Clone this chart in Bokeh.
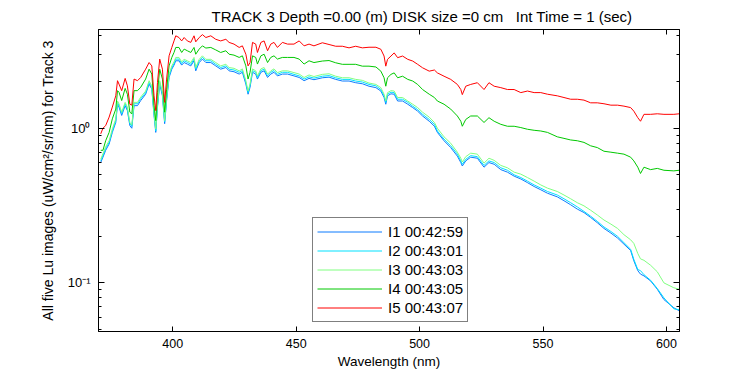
from bokeh.plotting import figure
from bokeh.models import (Range1d, FixedTicker, LogAxis, LinearAxis,
                          Legend, LegendItem, CustomJSTickFormatter)
from bokeh.embed import file_html
from bokeh.resources import INLINE

# ---------------- data ----------------
wavelength = [370.8, 371.7, 372.8, 374.2, 375.5, 376.9, 377.6, 378.2, 379.3, 380.7,
              381.6, 382.6, 383.4, 384.3, 385.7, 387.0, 389.0, 390.4, 391.5, 392.4,
              393.1, 393.8, 394.7, 395.8, 396.7, 397.5, 398.5, 399.6, 400.5, 401.2,
              402.5, 403.6, 404.6, 405.9, 407.3, 408.6, 409.3, 410.7, 412.0, 413.4,
              415.4, 417.4, 419.4, 421.5, 422.8, 424.8, 426.9, 428.2, 429.6, 430.5,
              431.3, 432.3, 433.6, 434.3, 435.7, 437.0, 438.4, 439.7, 441.0, 442.4,
              444.4, 446.5, 449.1, 451.2, 453.2, 455.2, 457.2, 460.6, 463.3, 466.0,
              468.7, 471.4, 474.1, 476.8, 479.5, 482.3, 484.3, 485.6, 486.3, 487.0,
              488.4, 489.7, 491.1, 493.1, 495.2, 497.2, 499.2, 501.2, 503.9, 506.0,
              507.2, 509.9, 512.6, 515.3, 516.7, 517.3, 518.7, 520.7, 523.4, 526.1,
              528.1, 530.2, 532.9, 535.6, 538.3, 541.0, 543.7, 546.4, 549.1, 551.8,
              555.8, 558.5, 561.2, 563.9, 566.6, 569.3, 572.0, 574.7, 577.5, 580.2,
              582.8, 585.5, 586.8, 588.4, 589.5, 590.9, 593.6, 596.3, 599.0, 603.0,
              605.2]

lu_i5 = [0.92, 1.00, 1.04, 1.18, 1.37, 1.62, 2.03, 1.93, 1.75, 2.10,
         1.88, 1.43, 1.41, 2.08, 2.03, 2.13, 2.41, 2.66, 2.53, 1.62,
         1.30, 1.98, 2.80, 2.41, 1.47, 2.08, 2.94, 3.33, 3.67, 3.96,
         3.86, 3.67, 3.86, 3.67, 3.59, 3.96, 3.62, 3.86, 4.03, 3.86,
         3.96, 3.76, 3.67, 3.76, 3.59, 3.50, 3.33, 3.41, 3.01, 2.53,
         2.66, 3.59, 3.50, 3.09, 3.59, 3.67, 3.17, 3.50, 3.59, 3.33,
         3.59, 3.50, 3.50, 3.67, 3.41, 3.50, 3.41, 3.57, 3.48, 3.39,
         3.39, 3.31, 3.39, 3.31, 3.34, 3.34, 3.24, 2.93, 2.52, 2.79,
         2.93, 3.07, 2.86, 2.93, 2.79, 2.72, 2.59, 2.46, 2.34, 2.38,
         2.28, 2.17, 2.07, 1.92, 1.78, 1.65, 1.87, 1.92, 1.97, 1.78,
         1.97, 1.87, 1.83, 1.78, 1.78, 1.70, 1.74, 1.70, 1.70, 1.66,
         1.62, 1.58, 1.54, 1.54, 1.52, 1.46, 1.46, 1.44, 1.41, 1.41,
         1.39, 1.36, 1.29, 1.17, 1.11, 1.23, 1.23, 1.24, 1.23, 1.23,
         1.24]

lu_i4 = [0.72, 0.72, 0.83, 0.94, 1.15, 1.33, 1.75, 1.71, 1.51, 1.81,
         1.66, 1.27, 1.24, 1.75, 1.75, 1.84, 2.08, 2.41, 2.24, 1.40,
         1.12, 1.71, 2.41, 2.08, 1.27, 1.79, 2.53, 2.87, 3.09, 3.33,
         3.33, 3.09, 3.25, 3.17, 3.09, 3.33, 3.01, 3.25, 3.41, 3.30,
         3.33, 3.21, 3.09, 3.17, 3.01, 2.97, 2.87, 2.94, 2.53, 2.08,
         2.30, 2.94, 2.87, 2.60, 2.94, 3.01, 2.66, 2.87, 2.94, 2.80,
         2.87, 2.87, 2.87, 2.80, 2.60, 2.73, 2.66, 2.72, 2.74, 2.65,
         2.59, 2.59, 2.59, 2.52, 2.52, 2.49, 2.34, 2.12, 1.87, 2.12,
         2.23, 2.28, 2.12, 2.17, 2.07, 2.02, 1.92, 1.78, 1.66, 1.58,
         1.50, 1.43, 1.33, 1.20, 1.11, 1.03, 1.14, 1.20, 1.20, 1.09,
         1.17, 1.11, 1.06, 1.03, 1.03, 1.01, 0.985, 0.97, 0.96, 0.94,
         0.88, 0.86, 0.84, 0.83, 0.81, 0.77, 0.75, 0.71, 0.70, 0.69,
         0.68, 0.65, 0.615, 0.56, 0.51, 0.56, 0.54, 0.55, 0.535, 0.53,
         0.535]

lu_i3 = [0.63, 0.685, 0.76, 0.83, 0.99, 1.15, 1.50, 1.44, 1.27, 1.47,
         1.37, 1.09, 1.05, 1.47, 1.47, 1.59, 1.74, 2.03, 1.88, 1.27,
         0.99, 1.44, 2.03, 1.70, 1.12, 1.59, 2.24, 2.53, 2.69, 2.87,
         2.87, 2.69, 2.79, 2.73, 2.66, 2.87, 2.47, 2.79, 2.94, 2.79,
         2.79, 2.66, 2.53, 2.59, 2.47, 2.44, 2.35, 2.42, 2.03, 1.74,
         1.93, 2.42, 2.35, 2.18, 2.42, 2.47, 2.24, 2.35, 2.42, 2.29,
         2.35, 2.35, 2.29, 2.24, 2.13, 2.21, 2.16, 2.23, 2.25, 2.17,
         2.12, 2.12, 2.07, 2.04, 1.96, 1.92, 1.83, 1.66, 1.50, 1.70,
         1.75, 1.74, 1.58, 1.58, 1.50, 1.43, 1.36, 1.27, 1.18, 1.09,
         1.00, 0.88, 0.80, 0.70, 0.64, 0.605, 0.655, 0.69, 0.68, 0.595,
         0.64, 0.62, 0.575, 0.555, 0.52, 0.505, 0.48, 0.455, 0.43, 0.41,
         0.39, 0.37, 0.35, 0.33, 0.315, 0.295, 0.275, 0.255, 0.24, 0.225,
         0.205, 0.19, 0.18, 0.155, 0.143, 0.14, 0.13, 0.118, 0.10, 0.093,
         0.091]

lu_i2 = [0.615, 0.665, 0.74, 0.81, 0.96, 1.12, 1.47, 1.40, 1.24, 1.44,
         1.33, 1.07, 1.03, 1.44, 1.44, 1.55, 1.70, 1.98, 1.83, 1.24,
         0.96, 1.40, 1.98, 1.66, 1.10, 1.55, 2.18, 2.47, 2.62, 2.80,
         2.80, 2.62, 2.73, 2.67, 2.59, 2.80, 2.41, 2.73, 2.87, 2.73,
         2.73, 2.59, 2.47, 2.53, 2.41, 2.38, 2.30, 2.36, 1.98, 1.70,
         1.89, 2.36, 2.30, 2.13, 2.36, 2.41, 2.18, 2.30, 2.36, 2.23,
         2.30, 2.30, 2.23, 2.18, 2.08, 2.15, 2.11, 2.17, 2.19, 2.12,
         2.07, 2.07, 2.02, 1.99, 1.92, 1.88, 1.78, 1.62, 1.47, 1.66,
         1.71, 1.70, 1.54, 1.54, 1.47, 1.39, 1.32, 1.23, 1.14, 1.06,
         0.96, 0.85, 0.77, 0.68, 0.615, 0.585, 0.63, 0.665, 0.655, 0.575,
         0.615, 0.60, 0.555, 0.535, 0.50, 0.48, 0.455, 0.43, 0.41, 0.39,
         0.37, 0.35, 0.33, 0.31, 0.29, 0.27, 0.25, 0.23, 0.215, 0.20,
         0.182, 0.165, 0.142, 0.122, 0.12, 0.113, 0.104, 0.092, 0.08, 0.068,
         0.067]

lu_i1 = [0.60, 0.65, 0.72, 0.79, 0.94, 1.09, 1.43, 1.37, 1.21, 1.40,
         1.30, 1.04, 1.00, 1.40, 1.40, 1.51, 1.66, 1.93, 1.79, 1.21,
         0.94, 1.37, 1.93, 1.62, 1.07, 1.51, 2.13, 2.41, 2.56, 2.73,
         2.73, 2.56, 2.66, 2.60, 2.53, 2.73, 2.35, 2.66, 2.80, 2.66,
         2.66, 2.53, 2.41, 2.47, 2.35, 2.32, 2.24, 2.30, 1.93, 1.66,
         1.84, 2.30, 2.24, 2.08, 2.30, 2.35, 2.13, 2.24, 2.30, 2.18,
         2.24, 2.24, 2.18, 2.13, 2.03, 2.10, 2.06, 2.12, 2.14, 2.07,
         2.02, 2.02, 1.97, 1.94, 1.87, 1.83, 1.74, 1.58, 1.43, 1.62,
         1.67, 1.66, 1.50, 1.50, 1.43, 1.36, 1.29, 1.20, 1.11, 1.03,
         0.94, 0.83, 0.75, 0.66, 0.60, 0.57, 0.615, 0.65, 0.64, 0.56,
         0.60, 0.585, 0.54, 0.52, 0.49, 0.47, 0.445, 0.42, 0.40, 0.38,
         0.36, 0.34, 0.32, 0.30, 0.285, 0.265, 0.245, 0.225, 0.21, 0.195,
         0.178, 0.162, 0.139, 0.12, 0.114, 0.111, 0.103, 0.091, 0.078, 0.069,
         0.066]

series_labels = ["I1 00:42:59", "I2 00:43:01", "I3 00:43:03", "I4 00:43:05", "I5 00:43:07"]
series_colors = ["#0a7aff", "#00e1ff", "#80ff80", "#00c800", "#ff0000"]

x_ticks = [400, 450, 500, 550, 600]
y_major_ticks = [0.1, 1.0]
y_tick_labels = ["10\u207b\u00b9", "10\u2070"]
y_minor_ticks = [0.05, 0.06, 0.07, 0.08, 0.09, 0.2, 0.3, 0.4, 0.5, 0.6, 0.7,
                 0.8, 0.9, 2.0, 3.0, 4.0]

title_text = "TRACK 3 Depth =0.00 (m) DISK size =0 cm\u00a0\u00a0\u00a0Int Time = 1 (sec)"
x_label = "Wavelength (nm)"
y_label = "All five Lu images (uW/cm\u00b2/sr/nm) for Track 3"

FONT = "Liberation Sans"

# ---------------- figure ----------------
p = figure(width=750, height=375, x_range=Range1d(369.9, 605.3),
           y_range=Range1d(0.0485, 4.35), y_axis_type="log",
           output_backend="svg", toolbar_location=None,
           min_border_left=98, min_border_right=71,
           min_border_top=28, min_border_bottom=44)
p.grid.visible = False
p.background_fill_color = "white"
p.border_fill_color = "white"
p.outline_line_color = "black"
p.outline_line_width = 1

p.title.text = title_text
p.title.align = "left"
p.title.offset = 113
p.title.standoff = 10
p.title.text_font = FONT
p.title.text_font_size = "15px"
p.title.text_font_style = "normal"
p.title.text_color = "black"

blank = CustomJSTickFormatter(code="return ''")

xax = p.xaxis[0]
xax.ticker = FixedTicker(ticks=x_ticks)
xax.major_tick_in = 5
xax.major_tick_out = 0
xax.minor_tick_line_color = None
xax.axis_line_color = "black"
xax.major_tick_line_color = "black"
xax.major_label_text_font = FONT
xax.major_label_text_font_size = "12.5px"
xax.major_label_text_color = "black"
xax.major_label_standoff = 7
xax.axis_label = x_label
xax.axis_label_text_font = FONT
xax.axis_label_text_font_size = "13.5px"
xax.axis_label_text_font_style = "normal"
xax.axis_label_text_color = "black"
xax.axis_label_standoff = 3

yticker = FixedTicker(ticks=y_major_ticks, minor_ticks=y_minor_ticks)
yax = p.yaxis[0]
yax.ticker = yticker
yax.formatter = CustomJSTickFormatter(
    args=dict(vals=y_major_ticks, labs=y_tick_labels),
    code="""
    for (let i = 0; i < vals.length; i++) {
        if (Math.abs(Math.log10(vals[i]) - Math.log10(tick)) < 1e-6) { return labs[i]; }
    }
    return '';
    """)
yax.major_tick_in = 6
yax.major_tick_out = 0
yax.minor_tick_in = 3
yax.minor_tick_out = 0
yax.major_label_standoff = 8
yax.major_label_text_font = FONT
yax.major_label_text_font_size = "13px"
yax.major_label_text_color = "black"
yax.axis_line_color = "black"
yax.axis_label = y_label
yax.axis_label_text_font = FONT
yax.axis_label_text_font_size = "14px"
yax.axis_label_text_font_style = "normal"
yax.axis_label_text_color = "black"
yax.axis_label_standoff = 9

# mirrored box ticks
rax = LogAxis(ticker=yticker, formatter=blank, major_tick_in=6, major_tick_out=0,
              minor_tick_in=3, minor_tick_out=0, major_label_standoff=0,
              major_label_text_font_size="0px", axis_line_color="black")
p.add_layout(rax, "right")
tax = LinearAxis(ticker=FixedTicker(ticks=x_ticks), formatter=blank, major_tick_in=5,
                 major_tick_out=0, minor_tick_line_color=None, major_label_standoff=0,
                 major_label_text_font_size="0px", axis_line_color="black")
p.add_layout(tax, "above")

# ---------------- lines ----------------
all_series = [lu_i1, lu_i2, lu_i3, lu_i4, lu_i5]
items = []
for vals, lab, col in zip(all_series, series_labels, series_colors):
    r = p.line(wavelength, vals, line_color=col, line_width=1)
    items.append(LegendItem(label=lab, renderers=[r]))

legend = Legend(items=items, location=(214, 9), orientation="vertical",
                label_text_font=FONT, label_text_font_size="15px",
                label_text_color="black",
                border_line_color="black", border_line_width=1,
                background_fill_color="white", background_fill_alpha=1.0,
                padding=4, spacing=0, margin=0, glyph_height=19, label_height=19,
                glyph_width=65, label_standoff=6)
p.add_layout(legend)

open("out.html", "w").write(file_html(p, INLINE))
